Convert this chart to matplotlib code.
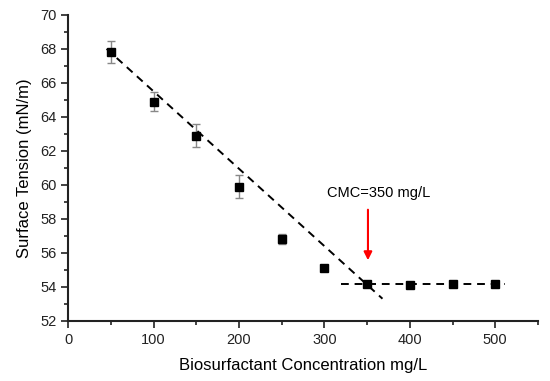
import numpy as np
import matplotlib.pyplot as plt
from matplotlib.ticker import MultipleLocator

plt.rcParams['font.family'] = ['Liberation Sans', 'DejaVu Sans']

conc = [50, 100, 150, 200, 250, 300, 350, 400, 450, 500]
tension = [67.8, 64.9, 62.9, 59.9, 56.8, 55.1, 54.15, 54.1, 54.15, 54.15]
err = [0.65, 0.55, 0.65, 0.65, 0.3, 0.1, 0.05, 0.05, 0.05, 0.05]

# fitted lines
fit1_x = [45, 368]
fit1_y = [68.0, 53.3]
fit2_x = [319, 512]
fit2_y = [54.15, 54.15]

fig = plt.figure(figsize=(5.5, 3.81), dpi=100)
ax = fig.add_axes([0.124, 0.158, 0.854, 0.803])

ax.errorbar(conc, tension, yerr=err, fmt='s', color='black', ms=5.5,
            ecolor='#888888', elinewidth=1, capsize=3, zorder=3)
ax.plot(fit1_x, fit1_y, '--', color='black', lw=1.4, dashes=(4, 3))
ax.plot(fit2_x, fit2_y, '--', color='black', lw=1.4, dashes=(4, 3))

ax.annotate('', xy=(351, 55.4), xytext=(351, 58.7),
            arrowprops=dict(arrowstyle='-|>', color='red', lw=1.5, mutation_scale=12))
ax.text(364, 59.5, 'CMC=350 mg/L', ha='center', va='center', fontsize=10.5)

ax.set_xlim(0, 550)
ax.set_ylim(52, 70)
ax.xaxis.set_major_locator(MultipleLocator(100))
ax.xaxis.set_minor_locator(MultipleLocator(50))
ax.yaxis.set_major_locator(MultipleLocator(2))
ax.yaxis.set_minor_locator(MultipleLocator(1))
ax.tick_params(which='both', direction='out', width=1.2, labelsize=10.5, colors='#222222')
ax.tick_params(which='major', length=5)
ax.tick_params(which='minor', length=3)
for s in ['top', 'right']:
    ax.spines[s].set_visible(False)
for s in ['left', 'bottom']:
    ax.spines[s].set_linewidth(1.5)
    ax.spines[s].set_color('#222222')

ax.set_xlabel('Biosurfactant Concentration mg/L', fontsize=12, labelpad=8)
ax.set_ylabel('Surface Tension (mN/m)', fontsize=12, labelpad=6)

fig.savefig('out.png', dpi=100)
